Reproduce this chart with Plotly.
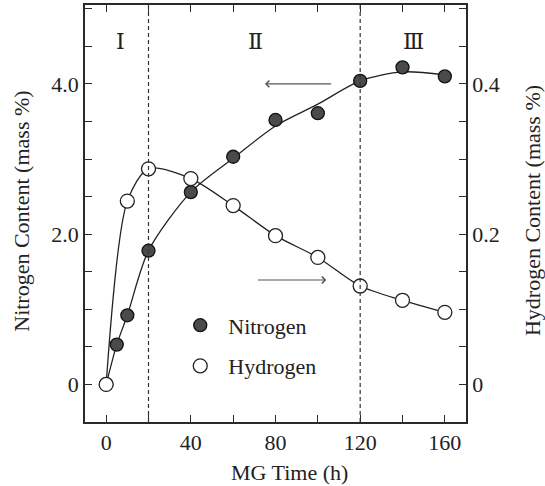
import plotly.graph_objects as go

# ---- data ----
time_n = [0, 5, 10, 20, 40, 60, 80, 100, 120, 140, 160]
nitrogen = [0, 0.53, 0.92, 1.78, 2.56, 3.03, 3.52, 3.61, 4.04, 4.22, 4.10]
# smooth fitted curve through nitrogen data
nitrogen_curve = [0, 0.53, 0.92, 1.78, 2.56, 3.01, 3.44, 3.73, 4.04, 4.16, 4.12]

time_h = [0, 10, 20, 40, 60, 80, 100, 120, 140, 160]
hydrogen = [0, 0.244, 0.287, 0.274, 0.238, 0.198, 0.169, 0.131, 0.112, 0.096]

stage_bounds = [20, 120]
stage_labels = ["Ⅰ", "Ⅱ", "Ⅲ"]
stage_label_x = [7, 70.5, 145]
stage_label_y = 4.56

x_ticks = [0, 20, 40, 60, 80, 100, 120, 140, 160]
x_text = ["0", "", "40", "", "80", "", "120", "", "160"]
yl_ticks = [0, 0.5, 1.0, 1.5, 2.0, 2.5, 3.0, 3.5, 4.0, 4.5, 5.0]
yl_text = ["0", "", "", "", "2.0", "", "", "", "4.0", "", ""]
yr_ticks = [0, 0.05, 0.1, 0.15, 0.2, 0.25, 0.3, 0.35, 0.4, 0.45, 0.5]
yr_text = ["0", "", "", "", "0.2", "", "", "", "0.4", "", ""]

# arrows: (tail x, head x, y on left scale)
arrow_left = (107, 75, 4.0)
arrow_right = (71, 104, 1.39)

FONT = "Liberation Serif, Times New Roman, serif"
AX = "#2a2a2a"
TXT = "#222"

fig = go.Figure()

fig.add_trace(go.Scatter(x=time_n, y=nitrogen_curve, mode="lines",
                         line=dict(color="#222", width=1.3, shape="spline", smoothing=0.8),
                         showlegend=False, hoverinfo="skip"))
fig.add_trace(go.Scatter(x=time_h, y=hydrogen, mode="lines", yaxis="y2",
                         line=dict(color="#222", width=1.3, shape="spline", smoothing=0.8),
                         showlegend=False, hoverinfo="skip"))
fig.add_trace(go.Scatter(x=time_h, y=hydrogen, mode="markers", yaxis="y2", name="Hydrogen",
                         legendgroup="h", legendrank=2,
                         marker=dict(symbol="circle", size=14, color="white",
                                     line=dict(color="#222", width=1.3))))
fig.add_trace(go.Scatter(x=time_n, y=nitrogen, mode="markers", name="Nitrogen",
                         legendgroup="n", legendrank=1,
                         marker=dict(symbol="circle", size=13, color="#4a4a4a",
                                     line=dict(color="#111", width=1.3))))

for b in stage_bounds:
    fig.add_shape(type="line", x0=b, x1=b, y0=0, y1=1, xref="x", yref="paper",
                  line=dict(color="#333", width=1.2, dash="4px,3px"))

for t, xl in zip(stage_labels, stage_label_x):
    fig.add_annotation(x=xl, y=stage_label_y, text=t, showarrow=False,
                       font=dict(family="DejaVu Serif, Liberation Serif, serif", size=22, color=TXT))

for tail, head, yv in (arrow_left, arrow_right):
    fig.add_annotation(x=head, y=yv, ax=tail, ay=yv, xref="x", yref="y", axref="x", ayref="y",
                       showarrow=True, arrowhead=4, arrowsize=1.2, arrowwidth=1.1,
                       arrowcolor="#555", text="")

fig.add_annotation(x=0.538, y=-0.12, xref="paper", yref="paper", text="MG Time (h)",
                   showarrow=False, xanchor="center", yanchor="middle",
                   font=dict(family=FONT, size=22, color=TXT))
fig.add_annotation(x=-0.166, y=0.506, xref="paper", yref="paper", text="Nitrogen Content (mass %)",
                   showarrow=False, textangle=-90, xanchor="center", yanchor="middle",
                   font=dict(family=FONT, size=22, color=TXT))
fig.add_annotation(x=1.176, y=0.506, xref="paper", yref="paper", text="Hydrogen Content (mass %)",
                   showarrow=False, textangle=-90, xanchor="center", yanchor="middle",
                   font=dict(family=FONT, size=22, color=TXT))

common_axis = dict(showgrid=False, zeroline=False, showline=True, linecolor=AX, linewidth=1.5,
                   ticks="inside", ticklen=7, tickcolor=AX, tickwidth=1.2, automargin=False,
                   tickfont=dict(family=FONT, size=22, color=TXT))

fig.update_layout(
    width=545, height=486,
    margin=dict(l=85, r=79, t=5, b=64, autoexpand=False),
    paper_bgcolor="white", plot_bgcolor="white",
    font=dict(family=FONT, size=22, color=TXT),
    xaxis=dict(range=[-10, 170], tickvals=x_ticks, ticktext=x_text, mirror="ticks",
               **common_axis),
    yaxis=dict(range=[-0.5, 5.05], tickvals=yl_ticks, ticktext=yl_text,
               **common_axis),
    yaxis2=dict(range=[-0.05, 0.505], overlaying="y", side="right",
                tickvals=yr_ticks, ticktext=yr_text,
                **common_axis),
    legend=dict(x=0.229, y=0.282, xanchor="left", yanchor="top",
                bgcolor="rgba(0,0,0,0)", font=dict(family=FONT, size=22, color=TXT),
                tracegroupgap=9, itemwidth=46),
    showlegend=True,
)

fig.write_html("out.html", config={"displayModeBar": False},
               post_script="document.body.style.margin='0';document.body.style.padding='0';")
